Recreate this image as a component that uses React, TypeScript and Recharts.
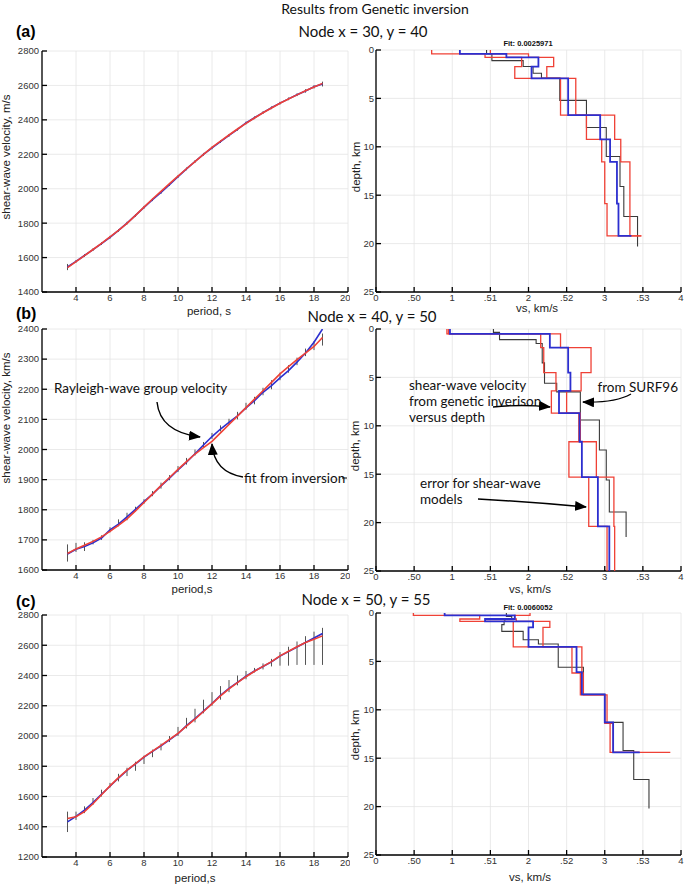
import React from "react";
import {
  CartesianGrid,
  ErrorBar,
  Line,
  LineChart,
  Scatter,
  ScatterChart,
  XAxis,
  YAxis,
} from "recharts";

// periods shared by the three dispersion curves
const periods = [
  3.5, 4, 4.5, 5, 5.5, 6, 6.5, 7, 7.5, 8, 8.5, 9, 9.5, 10, 10.5, 11, 11.5, 12,
  12.5, 13, 13.5, 14, 14.5, 15, 15.5, 16, 16.5, 17, 17.5, 18, 18.5,
];
const periodTicks = [4, 6, 8, 10, 12, 14, 16, 18, 20];

// (a) node 30,40
const obsA = [
  1545, 1578, 1612, 1646, 1681, 1718, 1758, 1800, 1845, 1892, 1936, 1978, 2024,
  2070, 2115, 2158, 2200, 2237, 2274, 2310, 2345, 2382, 2412, 2442, 2470, 2497,
  2522, 2546, 2568, 2592, 2608,
];
const fitA = [
  1542, 1576, 1611, 1647, 1683, 1720, 1758, 1799, 1845, 1893, 1940, 1985, 2030,
  2073, 2116, 2158, 2200, 2240, 2277, 2312, 2347, 2380, 2411, 2441, 2469, 2496,
  2521, 2545, 2569, 2591, 2612,
];
const errLowA = [
  1527, 1570, 1604, 1638, 1673, 1710, 1750, 1792, 1837, 1884, 1928, 1970, 2016,
  2062, 2107, 2150, 2192, 2229, 2266, 2302, 2337, 2374, 2404, 2434, 2462, 2489,
  2514, 2538, 2558, 2582, 2594,
];
const errHighA = [
  1563, 1586, 1620, 1654, 1689, 1726, 1766, 1808, 1853, 1900, 1944, 1986, 2032,
  2078, 2123, 2166, 2208, 2245, 2282, 2318, 2353, 2390, 2420, 2450, 2478, 2505,
  2530, 2554, 2578, 2602, 2622,
];
const ticksA = [1400, 1600, 1800, 2000, 2200, 2400, 2600, 2800];

// (b) node 40,50
const obsB = [
  1653, 1669, 1678, 1690, 1706, 1733, 1752, 1776, 1801, 1827, 1852, 1879, 1905,
  1932, 1958, 1986, 2015, 2043, 2068, 2090, 2112, 2138, 2162, 2190, 2212, 2238,
  2262, 2290, 2320, 2356, 2400,
];
const fitB = [
  1655, 1670, 1682, 1695, 1710, 1728, 1748, 1770, 1796, 1824, 1852, 1880, 1907,
  1934, 1960, 1985, 2006, 2027, 2055, 2083, 2111, 2139, 2167, 2195, 2223, 2251,
  2275, 2298, 2320, 2342, 2372,
];
const errLowB = [
  1628, 1660, 1663, 1685, 1700, 1725, 1745, 1765, 1795, 1820, 1845, 1870, 1898,
  1925, 1950, 1980, 2005, 2035, 2060, 2082, 2100, 2132, 2150, 2180, 2200, 2230,
  2255, 2280, 2310, 2330, 2345,
];
const errHighB = [
  1685, 1690, 1692, 1700, 1715, 1742, 1768, 1790, 1810, 1835, 1862, 1890, 1915,
  1945, 1972, 2000, 2025, 2055, 2080, 2102, 2125, 2155, 2175, 2205, 2230, 2255,
  2280, 2305, 2335, 2360, 2385,
];
const ticksB = [1600, 1700, 1800, 1900, 2000, 2100, 2200, 2300, 2400];

// (c) node 50,55
const obsC = [
  1432, 1468, 1510, 1560, 1615, 1668, 1722, 1772, 1815, 1860, 1898, 1935, 1975,
  2015, 2068, 2115, 2165, 2215, 2268, 2315, 2355, 2395, 2430, 2460, 2490, 2528,
  2558, 2588, 2618, 2648, 2678,
];
const fitC = [
  1455, 1466, 1500, 1552, 1612, 1670, 1725, 1775, 1818, 1862, 1900, 1938, 1978,
  2018, 2065, 2112, 2162, 2212, 2265, 2312, 2353, 2392, 2428, 2460, 2492, 2530,
  2560, 2590, 2618, 2640, 2662,
];
const errLowC = [
  1365, 1445, 1490, 1545, 1600, 1660, 1700, 1735, 1770, 1815, 1860, 1905, 1960,
  2000, 2050, 2090, 2150, 2200, 2240, 2290, 2335, 2375, 2420, 2440, 2460, 2465,
  2465, 2470, 2470, 2470, 2470,
];
const errHighC = [
  1500, 1500, 1535, 1590, 1645, 1690, 1750, 1790, 1830, 1870, 1910, 1950, 2000,
  2060, 2120, 2180, 2240, 2290, 2330, 2370, 2400, 2430, 2450, 2480, 2510, 2555,
  2590, 2625, 2660, 2690, 2715,
];
const ticksC = [1200, 1400, 1600, 1800, 2000, 2200, 2400, 2600, 2800];

// shear-wave profiles: layer velocity (km/s) and layer bottom depth (km)
const vsTicks = [0, 0.5, 1, 1.5, 2, 2.5, 3, 3.5, 4];
const vsTickLabels = ["0", ".50", "1", ".51", "2", ".52", "3", ".53", "4"];
const depthTicks = [0, 5, 10, 15, 20, 25];

const blueVsA = [1.1, 1.71, 2.13, 2.04, 2.52, 2.94, 3.07, 3.16, 3.18, 3.35];
const blueZA = [0.41, 0.76, 1.72, 2.93, 6.72, 9.24, 11.55, 15.86, 19.2, 19.2];
const blackVsA = [1.45, 1.52, 1.93, 2.06, 2.17, 2.41, 2.76, 3.02, 3.2, 3.25, 3.43];
const blackZA = [0.4, 1.1, 1.7, 2.4, 2.9, 5.2, 8.0, 11.0, 14.1, 17.2, 20.3];
const lowVsA = [0.73, 1.43, 1.91, 1.82, 2.42, 2.76, 2.96, 3.0, 3.03, 3.48];
const highVsA = [1.5, 2.0, 2.33, 2.24, 2.62, 3.13, 3.21, 3.33, 3.33, 3.48];
const errZA = [0.41, 0.76, 1.72, 2.93, 6.72, 9.24, 11.55, 15.86, 19.2, 19.2];

const blueVsB = [0.97, 2.28, 2.52, 2.55, 2.4, 2.67, 2.7, 2.91, 3.06];
const blueZB = [0.5, 1.93, 4.5, 6.4, 8.7, 11.65, 15.3, 20.4, 25];
const blackVsB = [1.54, 1.62, 2.1, 2.18, 2.21, 2.37, 2.68, 2.93, 3.02, 3.06, 3.28];
const blackZB = [0.35, 1.1, 1.5, 3.5, 5.6, 6.5, 9.4, 12.5, 15.6, 18.9, 21.5];
const lowVsB = [0.93, 2.16, 2.2, 2.36, 2.3, 2.66, 2.53, 2.79, 3.03];
const highVsB = [0.95, 2.42, 2.82, 2.69, 2.5, 2.68, 2.89, 3.12, 3.13];
const errZB = [0.5, 1.93, 4.5, 6.4, 8.7, 11.65, 15.3, 20.4, 25];

const blueVsC = [0.9, 1.82, 1.43, 2.06, 2.0, 2.63, 2.7, 3.0, 3.11, 3.46];
const blueZC = [0.25, 0.62, 0.86, 1.48, 3.5, 6.1, 8.4, 11.3, 14.4, 14.4];
const blackVsC = [1.71, 1.78, 1.69, 1.68, 1.65, 1.93, 2.13, 2.39, 2.72, 3.0, 3.24, 3.38, 3.58];
const blackZC = [0.35, 0.62, 0.86, 1.2, 1.9, 2.76, 3.2, 5.6, 8.4, 11.3, 14.2, 17.2, 20.2];
const lowVsC = [0.49, 1.36, 1.1, 1.8, 1.8, 2.57, 2.68, 3.0, 3.07, 3.86];
const highVsC = [2.02, 1.82, 1.84, 2.28, 2.19, 2.7, 2.72, 3.03, 3.11, 3.45];
const errZC = [0.25, 0.62, 0.86, 1.48, 3.5, 6.2, 8.45, 11.4, 14.4, 14.4];

const RED = "#ef4136";
const BLUE = "#2c2fcf";
const BLACK = "#3a3a3a";
const GRID = "#e4e4e4";
const tickFont = { fontSize: 9.5, fill: "#333", fontFamily: "Liberation Sans, Arial, sans-serif" };
const labelFont = "Lato, sans-serif";

function steps(vs: number[], bottoms: number[]) {
  const pts: { v: number; d: number }[] = [];
  let top = 0;
  vs.forEach((v, i) => {
    pts.push({ v, d: top });
    pts.push({ v, d: bottoms[i] });
    top = bottoms[i];
  });
  return pts;
}

const noDot = () => <g />;

interface CurveProps {
  top: number;
  height: number;
  obs: number[];
  fit: number[];
  low: number[];
  high: number[];
  yTicks: number[];
}

function CurvePanel({ top, height, obs, fit, low, high, yTicks }: CurveProps) {
  const data = periods.map((p, i) => ({
    p,
    obs: obs[i],
    fit: fit[i],
    err: [obs[i] - low[i], high[i] - obs[i]],
  }));
  const yDomain = [yTicks[0], yTicks[yTicks.length - 1]];
  return (
    <div style={{ position: "absolute", left: 0, top, width: 350, height }}>
      <LineChart width={350} height={height} data={data} margin={{ top: 6, right: 2, bottom: 0, left: 0 }}>
        <CartesianGrid stroke={GRID} strokeWidth={0.8} />
        <XAxis
          type="number"
          dataKey="p"
          domain={[2, 20]}
          ticks={periodTicks}
          allowDataOverflow
          height={22}
          tickSize={-5}
          tickMargin={7}
          tick={tickFont}
          stroke="#000"
          strokeWidth={1.3}
        />
        <XAxis
          xAxisId="top"
          orientation="top"
          type="number"
          domain={[2, 20]}
          ticks={periodTicks}
          allowDataOverflow
          mirror
          height={0}
          tick={false}
          tickSize={5}
          stroke="#000"
          strokeWidth={1.3}
        />
        <YAxis
          type="number"
          domain={yDomain}
          ticks={yTicks}
          allowDataOverflow
          width={42}
          tickSize={-5}
          tickMargin={8}
          tick={tickFont}
          stroke="#000"
          strokeWidth={1.3}
        />
        <YAxis
          yAxisId="right"
          orientation="right"
          type="number"
          domain={yDomain}
          ticks={yTicks}
          allowDataOverflow
          mirror
          width={0}
          tick={false}
          tickSize={5}
          stroke="#000"
          strokeWidth={1.3}
        />
        <Line type="linear" dataKey="obs" stroke={BLUE} strokeWidth={1.6} dot={false} isAnimationActive={false}>
          <ErrorBar dataKey="err" width={0} stroke="#555" strokeWidth={1} isAnimationActive={false} />
        </Line>
        <Line type="linear" dataKey="fit" stroke={RED} strokeWidth={1.6} dot={false} isAnimationActive={false} />
      </LineChart>
    </div>
  );
}

interface Profile {
  vs: number[];
  z: number[];
  color: string;
  width: number;
}

function ProfilePanel({ top, profiles }: { top: number; profiles: Profile[] }) {
  return (
    <div style={{ position: "absolute", left: 350, top, width: 334, height: 270 }}>
      <ScatterChart width={334} height={270} margin={{ top: 6, right: 3, bottom: 0, left: 0 }}>
        <CartesianGrid stroke={GRID} strokeWidth={0.8} />
        <XAxis
          type="number"
          dataKey="v"
          domain={[0, 4]}
          ticks={vsTicks}
          allowDataOverflow
          tickFormatter={(v: number) => vsTickLabels[vsTicks.indexOf(v)]}
          height={22}
          tickSize={-5}
          tickMargin={7}
          tick={tickFont}
          stroke="#000"
          strokeWidth={1.3}
        />
        <XAxis
          xAxisId="top"
          orientation="top"
          type="number"
          domain={[0, 4]}
          ticks={vsTicks}
          allowDataOverflow
          mirror
          height={0}
          tick={false}
          tickSize={5}
          stroke="#000"
          strokeWidth={1.3}
        />
        <YAxis
          type="number"
          dataKey="d"
          domain={[0, 25]}
          ticks={depthTicks}
          reversed
          allowDataOverflow
          width={26}
          tickSize={-5}
          tickMargin={7}
          tick={tickFont}
          stroke="#000"
          strokeWidth={1.3}
        />
        <YAxis
          yAxisId="right"
          orientation="right"
          type="number"
          domain={[0, 25]}
          ticks={depthTicks}
          reversed
          allowDataOverflow
          mirror
          width={0}
          tick={false}
          tickSize={5}
          stroke="#000"
          strokeWidth={1.3}
        />
        {profiles.map((pr, i) => (
          <Scatter
            key={i}
            data={steps(pr.vs, pr.z)}
            fill={pr.color}
            line={{ stroke: pr.color, strokeWidth: pr.width }}
            shape={noDot}
            isAnimationActive={false}
          />
        ))}
      </ScatterChart>
    </div>
  );
}

const profilesA: Profile[] = [
  { vs: blackVsA, z: blackZA, color: BLACK, width: 1.1 },
  { vs: lowVsA, z: errZA, color: RED, width: 1.3 },
  { vs: highVsA, z: errZA, color: RED, width: 1.3 },
  { vs: blueVsA, z: blueZA, color: BLUE, width: 1.8 },
];
const profilesB: Profile[] = [
  { vs: blackVsB, z: blackZB, color: BLACK, width: 1.1 },
  { vs: lowVsB, z: errZB, color: RED, width: 1.3 },
  { vs: highVsB, z: errZB, color: RED, width: 1.3 },
  { vs: blueVsB, z: blueZB, color: BLUE, width: 1.8 },
];
const profilesC: Profile[] = [
  { vs: blackVsC, z: blackZC, color: BLACK, width: 1.1 },
  { vs: lowVsC, z: errZC, color: RED, width: 1.3 },
  { vs: highVsC, z: errZC, color: RED, width: 1.3 },
  { vs: blueVsC, z: blueZC, color: BLUE, width: 1.8 },
];

function Labels() {
  const axisLab = { fontSize: 11.5, fill: "#222", fontFamily: "Liberation Sans, Arial, sans-serif" };
  const node = { fontSize: 15, fill: "#111", fontFamily: labelFont };
  const panel = { fontSize: 16, fontWeight: 700, fill: "#000", fontFamily: "Liberation Sans, Arial, sans-serif" };
  const fit = { fontSize: 7.5, fontWeight: 700, fill: "#111", fontFamily: "Liberation Sans, Arial, sans-serif" };
  const note = { fontSize: 13.5, fill: "#111", fontFamily: labelFont };
  const arrow = { fill: "none", stroke: "#000", strokeWidth: 1.4, markerEnd: "url(#head)" };
  return (
    <svg width={685} height={885} style={{ position: "absolute", left: 0, top: 0, pointerEvents: "none" }}>
      <defs>
        <marker id="head" markerUnits="userSpaceOnUse" markerWidth={12} markerHeight={10} refX={11} refY={5} orient="auto">
          <path d="M0,0 L12,5 L0,10 z" fill="#000" />
        </marker>
      </defs>
      <text x={375} y={14} textAnchor="middle" style={{ ...node, fontSize: 14 }}>Results from Genetic inversion</text>

      <text x={16} y={37} style={panel}>(a)</text>
      <text x={363} y={37} textAnchor="middle" style={node}>Node x = 30, y = 40</text>
      <text x={528} y={46} textAnchor="middle" style={fit}>Fit: 0.0025971</text>
      <text x={10} y={157} textAnchor="middle" transform="rotate(-90 10 157)" style={axisLab}>shear-wave velocity, m/s</text>
      <text x={209} y={315} textAnchor="middle" style={axisLab}>period, s</text>
      <text x={360} y={167} textAnchor="middle" transform="rotate(-90 360 167)" style={axisLab}>depth, km</text>
      <text x={537} y={312} textAnchor="middle" style={axisLab}>vs, km/s</text>

      <text x={16} y={319} style={panel}>(b)</text>
      <text x={372} y={322} textAnchor="middle" style={node}>Node x = 40, y = 50</text>
      <text x={10} y={418} textAnchor="middle" transform="rotate(-90 10 418)" style={axisLab}>shear-wave velocity, km/s</text>
      <text x={192} y={593} textAnchor="middle" style={axisLab}>period,s</text>
      <text x={359} y={446} textAnchor="middle" transform="rotate(-90 359 446)" style={axisLab}>depth, km</text>
      <text x={530} y={593} textAnchor="middle" style={axisLab}>vs, km/s</text>

      <text x={54} y={393} style={note}>Rayleigh-wave group velocity</text>
      <path d="M157,402 Q160,432 200,437" style={arrow} />
      <text x={244} y={483} style={note}>fit from inversion</text>
      <line x1={342} y1={478} x2={347} y2={478} stroke="#000" strokeWidth={1} />
      <path d="M243,477 Q214,472 212,444" style={arrow} />

      <text x={409} y={390} style={note}>shear-wave velocity</text>
      <text x={409} y={406} style={note}>from genetic inverison</text>
      <text x={409} y={422} style={note}>versus depth</text>
      <path d="M493,407 Q522,404 550,407" style={arrow} />
      <text x={678} y={392} textAnchor="end" style={note}>from SURF96</text>
      <path d="M631,394 Q615,403 583,402" style={arrow} />
      <text x={420} y={488} style={note}>error for shear-wave</text>
      <text x={420} y={504} style={note}>models</text>
      <path d="M478,499 Q532,502 586,507" style={arrow} />

      <text x={16} y={607} style={panel}>(c)</text>
      <text x={366} y={605} textAnchor="middle" style={node}>Node x = 50, y = 55</text>
      <text x={528} y={610} textAnchor="middle" style={fit}>Fit: 0.0060052</text>
      <text x={195} y={882} textAnchor="middle" style={axisLab}>period,s</text>
      <text x={359} y={735} textAnchor="middle" transform="rotate(-90 359 735)" style={axisLab}>depth, km</text>
      <text x={530} y={881} textAnchor="middle" style={axisLab}>vs, km/s</text>
    </svg>
  );
}

export default function App() {
  return (
    <div style={{ position: "absolute", left: 0, top: 0, width: 685, height: 885, background: "#fff" }}>
      <CurvePanel top={45} height={269} obs={obsA} fit={fitA} low={errLowA} high={errHighA} yTicks={ticksA} />
      <CurvePanel top={323} height={269} obs={obsB} fit={fitB} low={errLowB} high={errHighB} yTicks={ticksB} />
      <CurvePanel top={609} height={270} obs={obsC} fit={fitC} low={errLowC} high={errHighC} yTicks={ticksC} />
      <ProfilePanel top={44} profiles={profilesA} />
      <ProfilePanel top={323} profiles={profilesB} />
      <ProfilePanel top={607} profiles={profilesC} />
      <Labels />
    </div>
  );
}
